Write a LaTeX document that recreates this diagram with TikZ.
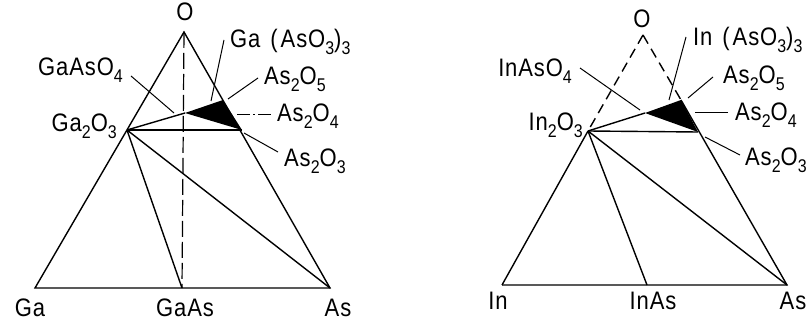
\documentclass[tikz,border=0pt]{standalone}
\usepackage{fontspec}
\setmainfont[LetterSpace=4]{Liberation Sans}
\newcommand\lo[1]{\raisebox{-6pt}{\fontsize{16}{16}\selectfont #1}}
\newcommand\tl[1]{\scalebox{1}[1.15]{#1}}
\begin{document}
\begin{tikzpicture}[x=1pt,y=-1pt,
  edge/.style={line width=1.4pt},
  lead/.style={line width=1pt},
  dsh/.style={line width=1.2pt, dash pattern=on 16pt off 5pt},
  dshb/.style={line width=1.4pt, dash pattern=on 10pt off 6pt},
  dashdot/.style={line width=1pt, dash pattern=on 13pt off 3pt on 2pt off 3pt},
  lbl/.style={inner sep=0pt, font=\fontsize{22}{24}\selectfont}]
\useasboundingbox (0,0) rectangle (808,320);
% ---------------- left diagram: Ga-As-O ----------------
\coordinate (gO) at (184,32);
\coordinate (gGa) at (35,288);
\coordinate (gAs) at (330,288);
\coordinate (gGaAs) at (182,288);
\coordinate (gGa2O3) at (127,130);
\coordinate (gTip) at (185,113);
\coordinate (gAs2O5) at (223,100);
\coordinate (gAs2O3) at (242,130);
\draw[edge] (gGa) -- (gO) -- (gAs) -- cycle;
\draw[dsh] (gO) -- (gGaAs);
\draw[edge] (gGa2O3) -- (gGaAs);
\draw[edge] (gGa2O3) -- (gAs);
\draw[edge] (gGa2O3) -- (gAs2O3);
\draw[edge] (gGa2O3) -- (gTip);
\fill (gTip) -- (gAs2O5) -- (gAs2O3) -- cycle;
% labels
\node[lbl, anchor=base] (lgO) at (185,21) {\tl{O}};
\node[lbl, anchor=base west] (lgGaAsO3) at (230,48) {\tl{Ga\hspace{10pt}(\hspace{3pt}AsO\lo{3})\lo{3}}};
\node[lbl, anchor=base east] (lgGaAsO4) at (123,76) {\tl{GaAsO\lo{4}}};
\node[lbl, anchor=base east] (lgGa2O3) at (117,132) {\tl{Ga\lo{2}O\lo{3}}};
\node[lbl, anchor=base west] (lgAs2O5) at (264,85) {\tl{As\lo{2}O\lo{5}}};
\node[lbl, anchor=base west] (lgAs2O4) at (277,122) {\tl{As\lo{2}O\lo{4}}};
\node[lbl, anchor=base west] (lgAs2O3) at (284,167) {\tl{As\lo{2}O\lo{3}}};
\node[lbl, anchor=base] (lgGa) at (30,316) {\tl{Ga}};
\node[lbl, anchor=base] (lgGaAs) at (185,316) {\tl{GaAs}};
\node[lbl, anchor=base] (lgAs) at (338,316) {\tl{As}};
% leaders
\coordinate (a1) at (224,40);  \coordinate (b1) at (211,101);
\coordinate (a2) at (131,76);  \coordinate (b2) at (174,113);
\coordinate (a3) at (258,78);  \coordinate (b3) at (228,99);
\coordinate (a4) at (272,115); \coordinate (b4) at (237,115);
\coordinate (a5) at (278,152); \coordinate (b5) at (244,133);
\draw[lead] (a1) -- (b1);
\draw[lead] (a2) -- (b2);
\draw[lead] (a3) -- (b3);
\draw[dashdot] (b4) -- (a4);
\draw[lead] (a5) -- (b5);
% ---------------- right diagram: In-As-O ----------------
\coordinate (iO) at (643,35);
\coordinate (iIn) at (502,285);
\coordinate (iAs) at (787,285);
\coordinate (iInAs) at (647,285);
\coordinate (iIn2O3) at (588,131);
\coordinate (iTip) at (645,113);
\coordinate (iAs2O5) at (681,100);
\coordinate (iAs2O3) at (698,132);
\draw[edge] (iIn) -- (iIn2O3);
\draw[dshb] (iO) -- (iIn2O3);
\draw[dshb] (iO) -- (iAs2O5);
\draw[edge] (iAs2O5) -- (iAs) -- (iIn);
\draw[edge] (iIn2O3) -- (iInAs);
\draw[edge] (iIn2O3) -- (iAs);
\draw[edge] (iIn2O3) -- (iAs2O3);
\draw[edge] (iIn2O3) -- (iTip);
\fill (iTip) -- (iAs2O5) -- (iAs2O3) -- cycle;
% labels
\node[lbl, anchor=base] (liO) at (642,28) {\tl{O}};
\node[lbl, anchor=base west] (liInAsO3) at (693,46) {\tl{In\hspace{10pt}(\hspace{3pt}AsO\lo{3})\lo{3}}};
\node[lbl, anchor=base east] (liInAsO4) at (572,77) {\tl{InAsO\lo{4}}};
\node[lbl, anchor=base east] (liIn2O3) at (583,131) {\tl{In\lo{2}O\lo{3}}};
\node[lbl, anchor=base west] (liAs2O5) at (723,84) {\tl{As\lo{2}O\lo{5}}};
\node[lbl, anchor=base west] (liAs2O4) at (735,121) {\tl{As\lo{2}O\lo{4}}};
\node[lbl, anchor=base west] (liAs2O3) at (745,166) {\tl{As\lo{2}O\lo{3}}};
\node[lbl, anchor=base] (liIn) at (498,309) {\tl{In}};
\node[lbl, anchor=base] (liInAs) at (653,309) {\tl{InAs}};
\node[lbl, anchor=base] (liAs) at (793,309) {\tl{As}};
% leaders
\coordinate (c1) at (686,37);  \coordinate (d1) at (669,100);
\coordinate (c2) at (580,68);  \coordinate (d2) at (640,110);
\coordinate (c3) at (713,77);  \coordinate (d3) at (688,98);
\coordinate (c4) at (728,113); \coordinate (d4) at (695,113);
\coordinate (c5) at (740,155); \coordinate (d5) at (705,137);
\draw[lead] (c1) -- (d1);
\draw[lead] (c2) -- (d2);
\draw[lead] (c3) -- (d3);
\draw[lead] (c4) -- (d4);
\draw[lead] (c5) -- (d5);
\end{tikzpicture}
\end{document}
